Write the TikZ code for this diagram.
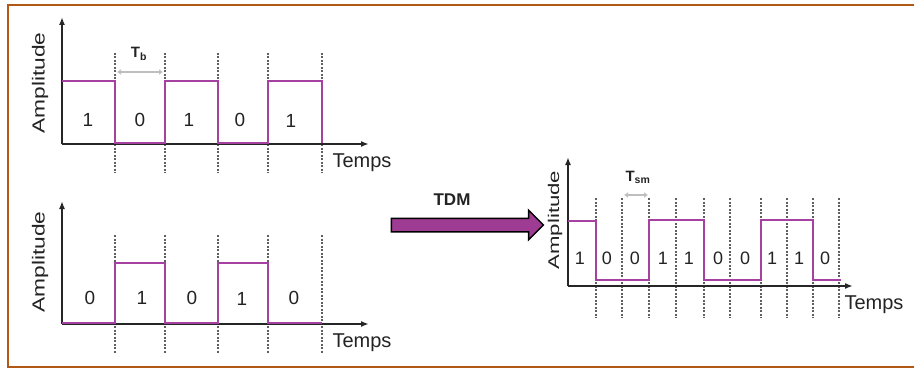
\documentclass[tikz,border=0pt]{standalone}
\usepackage{fontspec}
\setmainfont{Liberation Sans}
\usetikzlibrary{arrows.meta,positioning,shapes.arrows}
\definecolor{CadreBrun}{RGB}{178,88,20}
\definecolor{SignalViolet}{RGB}{165,65,160}
\definecolor{FlecheViolet}{RGB}{158,60,148}
\definecolor{GrilleGris}{RGB}{95,95,95}
\definecolor{TexteGris}{RGB}{35,35,35}
\tikzset{
  cadre/.style={line width=2.4pt, CadreBrun},
  axe/.style={-{Latex[length=8pt,width=6pt]}, line width=1.6pt, black!85},
  signal/.style={line width=1.7pt, SignalViolet, line join=miter},
  grille/.style={dash pattern=on 2pt off 1.5pt, line width=1.2pt, GrilleGris},
  bit/.style={font=\fontsize{19}{19}\selectfont, text=TexteGris, inner sep=0pt},
  bitmux/.style={bit, font=\fontsize{18}{18}\selectfont},
  ampli/.style={font=\fontsize{17.5}{17.5}\selectfont, text=TexteGris, rotate=90, xscale=1.3, inner sep=0pt},
  temps/.style={font=\fontsize{20}{20}\selectfont, text=TexteGris, inner sep=0pt},
  periode/.style={font=\bfseries\fontsize{15}{15}\selectfont, text=TexteGris, inner sep=0pt},
  duree/.style={{Latex[length=4pt,width=6pt]}-{Latex[length=4pt,width=6pt]}, line width=1.6pt, gray!50},
  tdmfleche/.style={single arrow, draw=black, line width=1.5pt, fill=FlecheViolet,
                inner sep=6pt, minimum height=152pt, single arrow head extend=8pt},
}

\begin{document}
\begin{tikzpicture}[x=1pt, y=-1pt]
  \useasboundingbox (0,0) rectangle (914,369);

  % --- cadre ---------------------------------------------------------------
  \draw[cadre] (914,5) -- (8,5) -- (8,367) -- (914,367);

  % --- voie 1 : 1 0 1 0 1 --------------------------------------------------
  \foreach \x in {115,165,218,268,322} \draw[grille] (\x,53) -- (\x,173);
  \draw[axe] (62,144) -- (62,17);
  \draw[axe] (62,144) -- (369,144);
  \draw[signal] (62,81) -- (115,81) -- (115,143) -- (165,143) -- (165,81) -- (218,81)
                -- (218,143) -- (268,143) -- (268,81) -- (322,81) -- (322,143);
  \node[bit] (haut1) at (88,120)  {1};
  \node[bit] (haut2) at (140,120) {0};
  \node[bit] (haut3) at (189,120) {1};
  \node[bit] (haut4) at (240,120) {0};
  \node[bit] (haut5) at (291,121) {1};
  \node[ampli] (amplhaut) at (40,83) {Amplitude};
  \node[temps] (tempshaut) at (362,163) {Temps};
  \draw[duree] (117,72) -- (163,72);
  \node[periode] (tb) at (139,54) {T\textsubscript{b}};

  % --- voie 2 : 0 1 0 1 0 --------------------------------------------------
  \foreach \x in {115,165,218,268,322} \draw[grille] (\x,235) -- (\x,353);
  \draw[axe] (62,324) -- (62,201);
  \draw[axe] (62,324) -- (369,324);
  \draw[signal] (62,323) -- (115,323) -- (115,263) -- (165,263) -- (165,323) -- (218,323)
                -- (218,263) -- (268,263) -- (268,323) -- (322,323);
  \node[bit] (bas1) at (90,298)  {0};
  \node[bit] (bas2) at (142,298) {1};
  \node[bit] (bas3) at (192,298) {0};
  \node[bit] (bas4) at (242,299) {1};
  \node[bit] (bas5) at (294,298) {0};
  \node[ampli] (amplbas) at (40,262) {Amplitude};
  \node[temps] (tempsbas) at (362,343) {Temps};

  % --- multiplexage ----------------------------------------------------------
  \node[tdmfleche] (fleche) at (464,225) {};
  \node[periode, font=\bfseries\fontsize{17}{17}\selectfont] (tdm) at (452,200) {TDM};

  % --- signal multiplexé -----------------------------------------------------
  \foreach \x in {596,622,649,676,704,730,761,787,813,839} \draw[grille] (\x,198) -- (\x,318);
  \draw[axe] (568,286) -- (568,157);
  \draw[axe] (568,286) -- (853,286);
  \draw[signal] (568,221) -- (596,221) -- (596,280) -- (649,280) -- (649,220) -- (704,220)
                -- (704,280) -- (761,280) -- (761,220) -- (813,220) -- (813,280) -- (841,280);
  \node[bitmux] (mux1)  at (580,258) {1};
  \node[bitmux] (mux2)  at (607,258) {0};
  \node[bitmux] (mux3)  at (635,258) {0};
  \node[bitmux] (mux4)  at (663,258) {1};
  \node[bitmux] (mux5)  at (689,258) {1};
  \node[bitmux] (mux6)  at (718,258) {0};
  \node[bitmux] (mux7)  at (745,258) {0};
  \node[bitmux] (mux8)  at (772,258) {1};
  \node[bitmux] (mux9)  at (799,258) {1};
  \node[bitmux] (mux10) at (825,258) {0};
  \node[ampli, font=\fontsize{15.5}{15.5}\selectfont, xscale=1.1] (amplmux) at (555,220) {Amplitude};
  \node[temps] (tempsmux) at (874,305) {Temps};
  \draw[duree, line width=1.2pt] (624,195) -- (648,195);
  \node[periode] (tsm) at (638,177) {T\textsubscript{sm}};

\end{tikzpicture}
\end{document}
